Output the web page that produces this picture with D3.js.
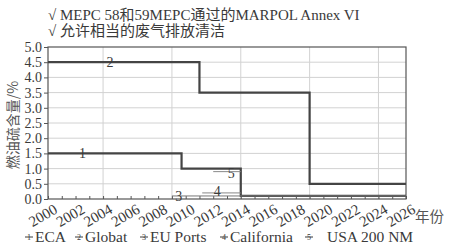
<!DOCTYPE html>
<html>
<head>
<meta charset="utf-8">
<script src="https://cdn.jsdelivr.net/npm/d3@7"></script>
<style>
  body { margin: 0; background: #fff; }
  svg { display: block; }
</style>
</head>
<body>
<div id="chart"></div>
<script>
// data
const titleLines = ["√ MEPC 58和59MEPC通过的MARPOL Annex VI", "√ 允许相当的废气排放清洁"];
const yTicks = [0, 0.5, 1, 1.5, 2, 2.5, 3, 3.5, 4, 4.5, 5];
const xTicks = d3.range(2000, 2027, 2);
const gridYears = [2004, 2009, 2014, 2019, 2024];

// step series: change years and the level held after each change
const ecaYears = [2000, 2009.7, 2014, 2026];
const ecaLevels = [1.5, 1.0, 0.1];
const globalYears = [2000, 2011, 2019, 2026];
const globalLevels = [4.5, 3.5, 0.5];
const euYears = [2009, 2026];
const euLevels = [0.1];
const caYears = [2011.2, 2014];
const caLevels = [0.2];
const usaYears = [2012, 2014];
const usaLevels = [0.9];

const seriesNames = ["ECA", "Globat", "EU Ports", "California", "USA 200 NM"];
// number markers on the lines: [year, value]
const markerYears = [2002.5, 2004.5, 2009.5, 2012.3, 2013.3];
const markerValues = [1.5, 4.5, 0.08, 0.25, 0.85];

const width = 452, height = 248;
const margin = { top: 47, right: 46, bottom: 49, left: 48 };

const svg = d3.select("#chart").append("svg")
    .attr("width", width)
    .attr("height", height);

const x = d3.scaleLinear().domain([2000, 2026]).range([margin.left, width - margin.right]);
const y = d3.scaleLinear().domain([0, 5]).range([height - margin.bottom, margin.top]);

const serif = "'Liberation Serif', 'DejaVu Serif', serif";
const cjk = "'Noto Sans CJK SC', sans-serif";
const ink = "#3a3a3a";

// title lines
svg.selectAll(".title")
    .data(titleLines)
    .join("text")
    .attr("x", margin.left)
    .attr("y", (d, i) => 20 + i * 16)
    .attr("font-family", `${serif}, ${cjk}`)
    .attr("font-size", 15)
    .attr("fill", ink)
    .text(d => d);

// grid
svg.append("g").selectAll("line")
    .data(yTicks.slice(1, -1))
    .join("line")
    .attr("x1", x(2000)).attr("x2", x(2026))
    .attr("y1", d => y(d)).attr("y2", d => y(d))
    .attr("stroke", "#d2d2d2").attr("stroke-width", 1);

svg.append("g").selectAll("line")
    .data(gridYears)
    .join("line")
    .attr("x1", d => x(d)).attr("x2", d => x(d))
    .attr("y1", y(0)).attr("y2", y(5))
    .attr("stroke", "#d2d2d2").attr("stroke-width", 1);

// frame
svg.append("rect")
    .attr("x", x(2000)).attr("y", y(5))
    .attr("width", x(2026) - x(2000)).attr("height", y(0) - y(5))
    .attr("fill", "none").attr("stroke", "#555").attr("stroke-width", 1.2);

// axes
const yAxis = svg.append("g")
    .attr("transform", `translate(${margin.left},0)`)
    .call(d3.axisLeft(y).tickValues(yTicks).tickFormat(d3.format(".1f")).tickSize(4).tickSizeOuter(0));
yAxis.select(".domain").remove();
yAxis.selectAll("text")
    .attr("font-family", serif).attr("font-size", 14).attr("fill", ink).attr("dx", 1);
yAxis.selectAll("line").attr("stroke", "#555");

const xAxis = svg.append("g")
    .attr("transform", `translate(0,${y(0)})`)
    .call(d3.axisTop(x).tickValues(d3.range(2000, 2027, 1)).tickFormat("").tickSize(3).tickSizeOuter(0));
xAxis.select(".domain").remove();
xAxis.selectAll("line").attr("stroke", "#555");

svg.append("g").selectAll("text")
    .data(xTicks)
    .join("text")
    .attr("transform", d => `translate(${x(d) + 5},${y(0) + 4}) rotate(-30)`)
    .attr("text-anchor", "end")
    .attr("dy", "0.72em")
    .attr("font-family", serif)
    .attr("font-size", 15)
    .attr("fill", ink)
    .text(d => d);

// axis titles
svg.append("text")
    .attr("transform", `translate(13,125) rotate(-90)`)
    .attr("text-anchor", "middle")
    .attr("dy", "0.35em")
    .attr("font-family", cjk)
    .attr("font-size", 14)
    .attr("fill", "#555")
    .text("燃油硫含量/%");

svg.append("text")
    .attr("x", 415).attr("y", 222)
    .attr("font-family", cjk)
    .attr("font-size", 14.5)
    .attr("fill", "#555")
    .text("年份");

// series
const toPoints = (years, levels) =>
    years.map((yr, i) => ({ year: yr, value: levels[Math.min(i, levels.length - 1)] }));

const series = [
    { pts: toPoints(ecaYears, ecaLevels), width: 2.2, color: "#444" },
    { pts: toPoints(globalYears, globalLevels), width: 2.2, color: "#444" },
    { pts: toPoints(euYears, euLevels), width: 1, color: "#777" },
    { pts: toPoints(caYears, caLevels), width: 1, color: "#888" },
    { pts: toPoints(usaYears, usaLevels), width: 1, color: "#888" }
];

const line = d3.line()
    .x(d => x(d.year))
    .y(d => y(d.value))
    .curve(d3.curveStepAfter);

svg.append("g").selectAll("path")
    .data(series)
    .join("path")
    .attr("fill", "none")
    .attr("stroke", d => d.color)
    .attr("stroke-width", d => d.width)
    .attr("d", d => line(d.pts));

// number markers on lines
svg.append("g").selectAll("text")
    .data(markerYears)
    .join("text")
    .attr("x", d => x(d))
    .attr("y", (d, i) => y(markerValues[i]))
    .attr("dy", "0.35em")
    .attr("text-anchor", "middle")
    .attr("font-family", serif)
    .attr("font-size", 14)
    .attr("fill", ink)
    .text((d, i) => i + 1);

// legend
const legendX = [25, 75, 140, 220, 305];
const legend = svg.append("g").selectAll("g")
    .data(seriesNames)
    .join("g")
    .attr("transform", (d, i) => `translate(${legendX[i]},237)`);

legend.append("line")
    .attr("x1", 0).attr("x2", 8)
    .attr("stroke", ink).attr("stroke-width", 1);
legend.append("text")
    .attr("x", 4).attr("dy", "0.35em")
    .attr("text-anchor", "middle")
    .attr("font-family", serif)
    .attr("font-size", 8)
    .attr("fill", ink)
    .text((d, i) => i + 1);
legend.append("text")
    .attr("x", (d, i) => i === 4 ? 22 : 10)
    .attr("dy", "0.35em")
    .attr("font-family", serif)
    .attr("font-size", 15.5)
    .attr("fill", ink)
    .text(d => d);
</script>
</body>
</html>
